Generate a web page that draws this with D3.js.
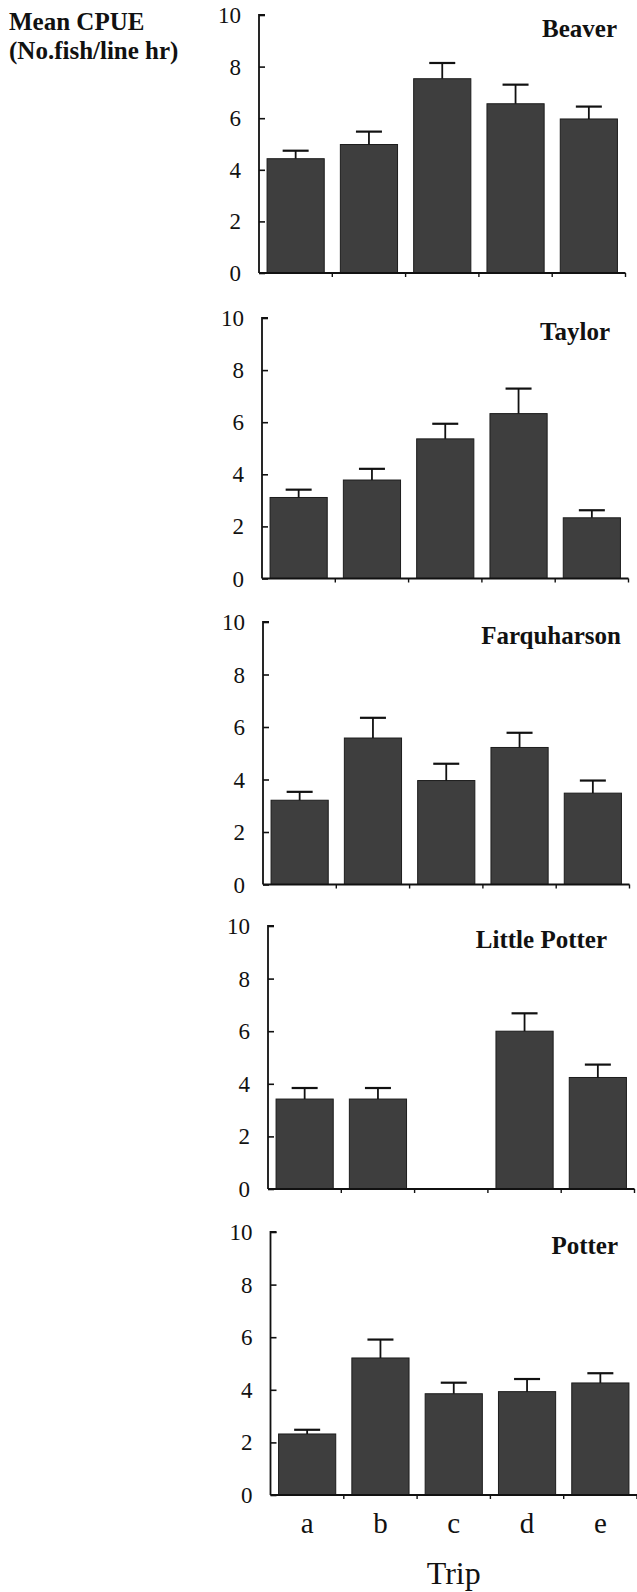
<!DOCTYPE html>
<html>
<head>
<meta charset="utf-8">
<script src="https://cdn.jsdelivr.net/npm/d3@7"></script>
<style>
  html, body { margin: 0; padding: 0; background: #fff; }
  svg { display: block; }
  text { font-family: "Liberation Serif", "Times New Roman", serif; fill: #111; }
</style>
</head>
<body>
<svg id="chart" width="637" height="1592"></svg>
<script>
// ---- data ----
const trips = ["a", "b", "c", "d", "e"];
const sites = ["Beaver", "Taylor", "Farquharson", "Little Potter", "Potter"];
const yTicks = [0, 2, 4, 6, 8, 10];

const beaverMean = [4.43, 4.98, 7.53, 6.56, 5.97];
const beaverSE   = [0.31, 0.50, 0.61, 0.74, 0.48];
const taylorMean = [3.11, 3.78, 5.36, 6.33, 2.33];
const taylorSE   = [0.30, 0.43, 0.58, 0.96, 0.29];
const farqMean   = [3.21, 5.58, 3.96, 5.22, 3.48];
const farqSE     = [0.32, 0.77, 0.64, 0.56, 0.48];
const lpotMean   = [3.42, 3.42, null, 6.00, 4.24];
const lpotSE     = [0.42, 0.42, null, 0.68, 0.49];
const potterMean = [2.32, 5.21, 3.85, 3.93, 4.26];
const potterSE   = [0.16, 0.70, 0.42, 0.48, 0.37];

const means = [beaverMean, taylorMean, farqMean, lpotMean, potterMean];
const ses   = [beaverSE, taylorSE, farqSE, lpotSE, potterSE];

// ---- layout (pixels) ----
const FONT = "Liberation Serif, Times New Roman, serif";
const panels = [
  { left: 259, top: 15,    bottom: 273,    titleRight: 617 },
  { left: 262, top: 318,   bottom: 578.5,  titleRight: 610 },
  { left: 263, top: 622,   bottom: 884.5,  titleRight: 621 },
  { left: 268, top: 926,   bottom: 1189,   titleRight: 607 },
  { left: 270.5, top: 1232, bottom: 1495,  titleRight: 618 }
];
const plotW = 366.5;

const svg = d3.select("#chart");

// y-axis title
svg.append("text").attr("x", 9).attr("y", 30).attr("font-family", FONT)
  .attr("font-size", 25).attr("font-weight", "bold").text("Mean CPUE");
svg.append("text").attr("x", 9).attr("y", 59).attr("font-family", FONT)
  .attr("font-size", 25).attr("font-weight", "bold").text("(No.fish/line hr)");

panels.forEach((p, i) => {
  const x = d3.scaleBand().domain(trips).range([p.left, p.left + plotW]).padding(0);
  const y = d3.scaleLinear().domain([0, 10]).range([p.bottom, p.top]);
  const g = svg.append("g");
  const bw = x.bandwidth();

  const rows = trips.map((t, j) => ({ t, m: means[i][j], s: ses[i][j] }))
                    .filter(d => d.m !== null);

  // bars
  g.selectAll("rect.bar").data(rows).enter().append("rect")
    .attr("class", "bar")
    .attr("x", d => x(d.t) + bw * 0.11)
    .attr("width", bw * 0.78)
    .attr("y", d => y(d.m))
    .attr("height", d => y(0) - y(d.m))
    .attr("fill", "#3e3e3e")
    .attr("stroke", "#1c1c1c")
    .attr("stroke-width", 1);

  // error bars
  const cx = d => x(d.t) + bw / 2;
  g.selectAll("line.err").data(rows).enter().append("line")
    .attr("x1", cx).attr("x2", cx)
    .attr("y1", d => y(d.m)).attr("y2", d => y(d.m + d.s))
    .attr("stroke", "#111").attr("stroke-width", 1.8);
  g.selectAll("line.cap").data(rows).enter().append("line")
    .attr("x1", d => cx(d) - 13).attr("x2", d => cx(d) + 13)
    .attr("y1", d => y(d.m + d.s)).attr("y2", d => y(d.m + d.s))
    .attr("stroke", "#111").attr("stroke-width", 2.2);

  // y axis
  const ya = g.append("g").attr("transform", `translate(${p.left},0)`)
    .call(d3.axisRight(y).tickValues(yTicks).tickSize(6).tickFormat(""));
  ya.select(".domain").attr("stroke", "#111").attr("stroke-width", 1.8)
    .attr("d", `M6,${p.top}H0V${p.bottom}`);
  ya.selectAll(".tick line").attr("stroke", "#111").attr("stroke-width", 1.6);
  ya.selectAll(".tick text").remove();
  g.selectAll("text.ytl").data(yTicks).enter().append("text")
    .attr("x", p.left - 18).attr("y", d => y(d))
    .attr("dy", "0.35em").attr("text-anchor", "end")
    .attr("font-family", FONT).attr("font-size", 23).text(d => d);

  // x axis
  const xa = g.append("g").attr("transform", `translate(0,${p.bottom})`);
  xa.append("line").attr("x1", p.left).attr("x2", p.left + plotW)
    .attr("y1", 0).attr("y2", 0).attr("stroke", "#111").attr("stroke-width", 1.8);
  const bounds = trips.map(t => x(t)).concat([p.left + plotW]).slice(1);
  xa.selectAll("line.xt").data(bounds).enter().append("line")
    .attr("x1", d => d).attr("x2", d => d).attr("y1", 0).attr("y2", 4)
    .attr("stroke", "#111").attr("stroke-width", 1.4);

  if (i === panels.length - 1) {
    g.selectAll("text.xtl").data(trips).enter().append("text")
      .attr("x", d => x(d) + bw / 2).attr("y", p.bottom + 38)
      .attr("text-anchor", "middle").attr("font-family", FONT)
      .attr("font-size", 29).text(d => d);
    g.append("text").attr("x", p.left + plotW / 2).attr("y", p.bottom + 89)
      .attr("text-anchor", "middle").attr("font-family", FONT)
      .attr("font-size", 32).text("Trip");
  }

  // panel title
  g.append("text").attr("x", p.titleRight).attr("y", p.top + 22)
    .attr("text-anchor", "end").attr("font-family", FONT)
    .attr("font-size", 25).attr("font-weight", "bold")
    .text(sites[i]);
});
</script>
</body>
</html>
